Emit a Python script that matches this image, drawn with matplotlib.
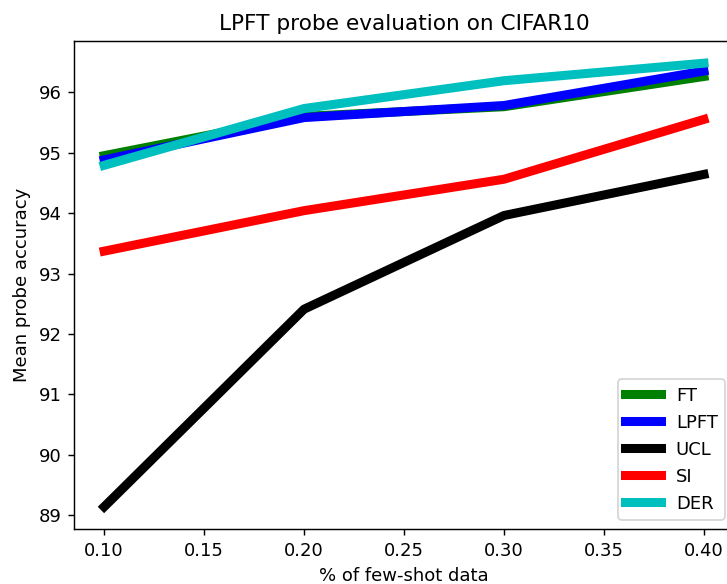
import matplotlib
matplotlib.use("Agg")
import matplotlib.pyplot as plt

# fraction of few-shot data
shots = [0.1, 0.2, 0.3, 0.4]

ft = [94.95, 95.60, 95.76, 96.26]
lpft = [94.88, 95.58, 95.78, 96.35]
ucl = [89.14, 92.41, 93.96, 94.64]
si = [93.37, 94.04, 94.56, 95.55]
der = [94.79, 95.73, 96.19, 96.48]

fig, ax = plt.subplots(figsize=(727 / 130, 584 / 130), dpi=130)
ax.plot(shots, ft, color='g', linewidth=5, label='FT')
ax.plot(shots, lpft, color='b', linewidth=5, label='LPFT')
ax.plot(shots, ucl, color='k', linewidth=5, label='UCL')
ax.plot(shots, si, color='r', linewidth=5, label='SI')
ax.plot(shots, der, color='c', linewidth=5, label='DER')

ax.set_title('LPFT probe evaluation on CIFAR10')
ax.set_xlabel('% of few-shot data')
ax.set_ylabel('Mean probe accuracy')
ax.legend(loc='lower right')

# the original is cropped a little on the right
fig.subplots_adjust(left=0.102, right=1.0096, top=0.9298, bottom=0.0942)
fig.savefig('out.png', dpi=130)
